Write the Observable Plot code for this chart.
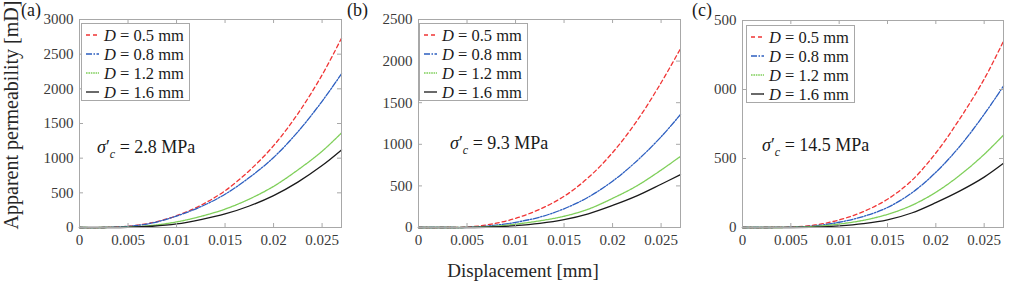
<!DOCTYPE html>
<html><head><meta charset="utf-8">
<script src="https://cdn.jsdelivr.net/npm/d3@7"></script>
<script src="https://cdn.jsdelivr.net/npm/@observablehq/plot@0.6"></script>
<style>
body{margin:0;background:#fff;}
#fig{position:relative;width:1036px;height:283px;overflow:hidden;background:#fff;}
#fig > svg{position:absolute;top:0;}
#fig svg, #fig svg text{font-family:'Liberation Serif','Times New Roman',serif !important;}
</style></head><body><div id="fig"></div>
<script>
// ---------------- data ----------------
const displacement = [0, 0.0025, 0.005, 0.0075, 0.01, 0.0125, 0.015, 0.0175, 0.02, 0.0225, 0.025, 0.027];
const diameters = [0.5, 0.8, 1.2, 1.6];
const stresses = ["2.8", "9.3", "14.5"];
const panelLetters = ["(a)", "(b)", "(c)"];

// panel (a) sigma'c = 2.8 MPa
const a_D05 = [0, 0, 18, 70, 170, 320, 530, 820, 1180, 1640, 2200, 2730];
const a_D08 = [0, 0, 15, 65, 165, 300, 480, 720, 1010, 1380, 1820, 2217];
const a_D12 = [0, 0, 6, 30, 80, 160, 265, 410, 593, 830, 1100, 1364];
const a_D16 = [0, 0, 3, 18, 52, 115, 195, 310, 460, 655, 893, 1118];
// panel (b) sigma'c = 9.3 MPa
const b_D05 = [0, 0, 5, 40, 110, 220, 375, 600, 900, 1280, 1740, 2150];
const b_D08 = [0, 0, 2, 22, 62, 125, 225, 365, 557, 800, 1090, 1358];
const b_D12 = [0, 0, 1, 12, 40, 80, 135, 220, 350, 500, 690, 855];
const b_D16 = [0, 0, 0, 6, 22, 50, 95, 165, 265, 380, 520, 635];
// panel (c) sigma'c = 14.5 MPa
const c_D05 = [0, 0, 3, 18, 55, 115, 205, 340, 540, 790, 1075, 1350];
const c_D08 = [0, 0, 2, 12, 38, 80, 145, 250, 400, 590, 820, 1025];
const c_D12 = [0, 0, 1, 8, 25, 52, 95, 160, 255, 380, 530, 670];
const c_D16 = [0, 0, 0, 3, 12, 28, 55, 105, 180, 265, 365, 465];

const xTicks = [0, 0.005, 0.01, 0.015, 0.02, 0.025];
const xTickLabels = ["0", "0.005", "0.01", "0.015", "0.02", "0.025"];
const yTicksA = [0, 500, 1000, 1500, 2000, 2500, 3000];
const yTickLabelsA = ["0", "500", "1000", "1500", "2000", "2500", "3000"];
const yTicksB = [0, 500, 1000, 1500, 2000, 2500];
const yTickLabelsB = ["0", "500", "1000", "1500", "2000", "2500"];
const yTicksC = [0, 500, 1000, 1500];
const yTickLabelsC = ["0", "500", "000", "500"];
const xLabel = "Displacement [mm]";
const yLabel = "Apparent permeability [mD]";

// ---------------- styles / layout ----------------
const FONT = "'Liberation Serif','Times New Roman',serif";
const lineStyles = [
  {color: "#f03535", dash: "4,3"},
  {color: "#2d5fc0", dash: "6,1.5,1.5,1.5"},
  {color: "#7fcf5a", dash: "1.6,0.8"},
  {color: "#1a1a1a", dash: null}
];
const H = 283, MB = 56;
const panels = [
  {series: [a_D05, a_D08, a_D12, a_D16], ymax: 3000, yTicks: yTicksA, yLabels: yTickLabelsA,
   left: 0, width: 344, ml: 79, mr: 3, mt: 19, legend: [81, 23], note: [97, 153], letter: [21, 16]},
  {series: [b_D05, b_D08, b_D12, b_D16], ymax: 2500, yTicks: yTicksB, yLabels: yTickLabelsB,
   left: 344, width: 340, ml: 74, mr: 4, mt: 19, legend: [419, 23], note: [450, 149], letter: [347, 16]},
  {series: [c_D05, c_D08, c_D12, c_D16], ymax: 1500, yTicks: yTicksC, yLabels: yTickLabelsC,
   left: 684, width: 352, ml: 58, mr: 33, mt: 20, legend: [746, 25], note: [762, 151], letter: [692, 16]}
];

const fig = document.getElementById("fig");
const axisColor = "#a8a8a8";

panels.forEach(p => {
  const rows = [];
  p.series.forEach((vals, i) => vals.forEach((v, j) => rows.push({x: displacement[j], y: v, d: diameters[i]})));
  const pw = p.width - p.ml - p.mr, ph = H - p.mt - MB;
  const xFmt = new Map(xTicks.map((t, i) => [t, xTickLabels[i]]));
  const yFmt = new Map(p.yTicks.map((t, i) => [t, p.yLabels[i]]));
  const chart = Plot.plot({
    width: p.width, height: H,
    marginLeft: p.ml, marginRight: p.mr, marginTop: p.mt, marginBottom: MB,
    style: {fontFamily: FONT, fontSize: "15px", color: "#3a3a3a", background: "transparent", overflow: "visible"},
    x: {domain: [0, 0.027]},
    y: {domain: [0, p.ymax]},
    marks: [
      ...diameters.map((dv, i) => Plot.line(rows.filter(r => r.d === dv), {
        x: "x", y: "y", stroke: lineStyles[i].color, strokeWidth: 1.3,
        strokeDasharray: lineStyles[i].dash, curve: "catmull-rom"
      })),
      Plot.frame({stroke: axisColor, strokeWidth: 1}),
      Plot.tickX(xTicks, {x: d => d, insetTop: ph - 4, stroke: axisColor}),
      Plot.tickX(xTicks, {x: d => d, insetBottom: ph - 4, stroke: axisColor}),
      Plot.tickY(p.yTicks, {y: d => d, insetRight: pw - 4, stroke: axisColor}),
      Plot.tickY(p.yTicks, {y: d => d, insetLeft: pw - 4, stroke: axisColor}),
      Plot.axisX({ticks: xTicks, tickSize: 0, tickPadding: 7, tickFormat: d => xFmt.get(d), label: null}),
      Plot.axisY({ticks: p.yTicks, tickSize: 0, tickPadding: 6, tickFormat: d => yFmt.get(d), label: null})
    ]
  });
  chart.style.left = p.left + "px";
  fig.appendChild(chart);
});

// ---------------- overlay: legends, notes, labels ----------------
const ov = d3.create("svg").attr("width", 1036).attr("height", H)
  .style("position", "absolute").style("left", "0px").style("top", "0px")
  .attr("font-family", FONT);

panels.forEach((p, k) => {
  const [lx, ly] = p.legend;
  const g = ov.append("g").attr("transform", `translate(${lx},${ly})`);
  g.append("rect").attr("x", 0.5).attr("y", 0.5).attr("width", 108).attr("height", 77)
    .attr("fill", "#fff").attr("stroke", axisColor);
  diameters.forEach((dv, i) => {
    const yy = 12 + i * 19;
    g.append("line").attr("x1", 5).attr("x2", 18).attr("y1", yy).attr("y2", yy)
      .attr("stroke", lineStyles[i].color).attr("stroke-width", 1.3)
      .attr("stroke-dasharray", lineStyles[i].dash);
    const t = g.append("text").attr("x", 23).attr("y", yy + 5.5).attr("font-size", 16.5).attr("fill", "#1a1a1a");
    t.append("tspan").attr("font-style", "italic").text("D");
    t.append("tspan").text(` = ${dv} mm`);
  });
  const [nx, ny] = p.note;
  const n = ov.append("text").attr("x", nx).attr("y", ny).attr("font-size", 18).attr("fill", "#1a1a1a");
  n.append("tspan").attr("font-style", "italic").text("σ");
  n.append("tspan").text("′");
  n.append("tspan").attr("font-style", "italic").attr("font-size", 12).attr("dy", 5).text("c");
  n.append("tspan").attr("dy", -5).text(` = ${stresses[k]} MPa`);
  ov.append("text").attr("x", p.letter[0]).attr("y", p.letter[1]).attr("font-size", 18)
    .attr("fill", "#1a1a1a").text(panelLetters[k]);
});
ov.append("text").attr("x", 523).attr("y", 277).attr("text-anchor", "middle")
  .attr("font-size", 19).attr("fill", "#262626").text(xLabel);
ov.append("text").attr("transform", "translate(18,115) rotate(-90)").attr("text-anchor", "middle")
  .attr("font-size", 20).attr("fill", "#262626").text(yLabel);
fig.appendChild(ov.node());
</script>
</body></html>
